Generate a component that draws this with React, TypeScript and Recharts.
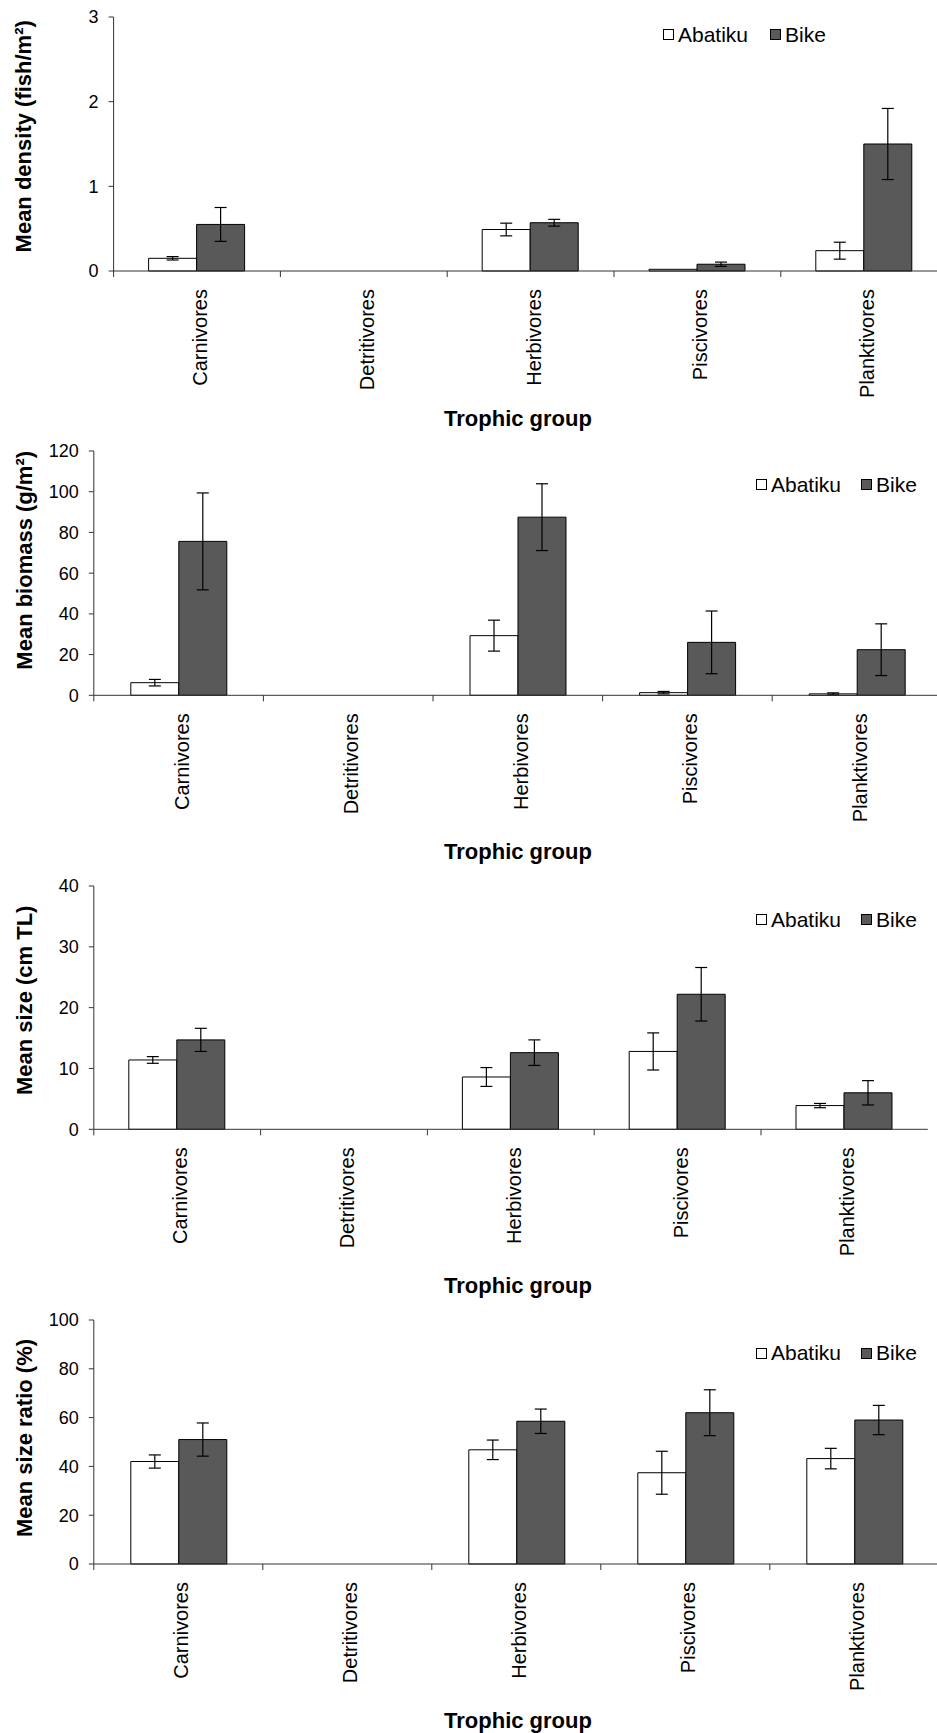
import React from "react";
import { BarChart, Bar, XAxis, YAxis, ErrorBar, Legend, Label } from "recharts";

const groups = ["Carnivores", "Detritivores", "Herbivores", "Piscivores", "Planktivores"];

const densityAbatiku = [0.15, 0, 0.49, 0.02, 0.24];
const densityAbatikuErr = [0.02, 0, 0.075, 0, 0.1];
const densityBike = [0.55, 0, 0.57, 0.08, 1.5];
const densityBikeErr = [0.2, 0, 0.04, 0.025, 0.42];

const biomassAbatiku = [6.2, 0, 29.3, 1.3, 0.7];
const biomassAbatikuErr = [1.6, 0, 7.6, 0.6, 0.5];
const biomassBike = [75.6, 0, 87.5, 26, 22.4];
const biomassBikeErr = [23.8, 0, 16.4, 15.4, 12.7];

const sizeAbatiku = [11.4, 0, 8.6, 12.8, 3.9];
const sizeAbatikuErr = [0.55, 0, 1.55, 3.05, 0.35];
const sizeBike = [14.7, 0, 12.6, 22.2, 6.0];
const sizeBikeErr = [1.9, 0, 2.1, 4.4, 2.0];

const ratioAbatiku = [42, 0, 46.8, 37.4, 43.2];
const ratioAbatikuErr = [2.7, 0, 4, 8.8, 4.2];
const ratioBike = [51, 0, 58.5, 62, 59];
const ratioBikeErr = [6.8, 0, 5, 9.4, 6];

const densityTicks = [0, 1, 2, 3];
const biomassTicks = [0, 20, 40, 60, 80, 100, 120];
const sizeTicks = [0, 10, 20, 30, 40];
const ratioTicks = [0, 20, 40, 60, 80, 100];

const FONT = '"Liberation Sans", Arial, sans-serif';
const W = 960;
const PAD = 16;
const XAXIS_H = 175;

function makeRows(a: number[], aErr: number[], b: number[], bErr: number[]) {
  return groups.map((g, i) => ({
    group: g,
    abatiku: a[i],
    abatikuErr: aErr[i],
    bike: b[i],
    bikeErr: bErr[i],
  }));
}

function LegendBox({ gap }: { gap: number }) {
  const item = (label: string, fill: string, mr: number) => (
    <div style={{ display: "flex", alignItems: "center", marginRight: mr }}>
      <div style={{ width: 9, height: 9, border: "1px solid #000", background: fill }} />
      <span style={{ fontSize: 21, marginLeft: 4, lineHeight: "22px", color: "#000" }}>{label}</span>
    </div>
  );
  return (
    <div style={{ display: "flex", fontFamily: FONT }}>
      {item("Abatiku", "#fff", gap)}
      {item("Bike", "#595959", 0)}
    </div>
  );
}

interface PanelProps {
  rows: any[];
  ticks: number[];
  title: string;
  plotTop: number;
  plotBottom: number;
  axisX: number;
  catW: number;
  titleY: number;
  legendLeft: number;
  legendY: number;
  legendGap: number;
  xTitleY: number;
}

function Panel(p: PanelProps) {
  const top = p.plotTop - PAD;
  const plotH = p.plotBottom - p.plotTop;
  const svgH = plotH + PAD + XAXIS_H;
  const right = W - (p.axisX + 5 * p.catW);
  const axisY = p.plotBottom - top;

  const renderTick = (props: any) => {
    const { x, payload } = props;
    return (
      <g>
        <line x1={x - p.catW / 2} x2={x - p.catW / 2} y1={axisY} y2={axisY + 6} stroke="#333" />
        <text
          transform={`translate(${x + 10},${axisY + 18}) rotate(-90)`}
          textAnchor="end"
          fontSize={20}
          fontFamily={FONT}
          fill="#000"
        >
          {payload.value}
        </text>
      </g>
    );
  };

  return (
    <div style={{ position: "absolute", left: 0, top }}>
      <BarChart
        width={W}
        height={svgH}
        data={p.rows}
        barGap={0}
        margin={{ top: PAD, right, left: 0, bottom: 0 }}
      >
        <XAxis
          dataKey="group"
          height={XAXIS_H}
          interval={0}
          axisLine={{ stroke: "#333" }}
          tickLine={false}
          tick={renderTick}
        >
          <Label
            content={() => (
              <text
                x={518}
                y={p.xTitleY - top}
                textAnchor="middle"
                dominantBaseline="central"
                fontSize={22}
                fontWeight="bold"
                fontFamily={FONT}
                fill="#000"
              >
                Trophic group
              </text>
            )}
          />
        </XAxis>
        <YAxis
          width={p.axisX}
          domain={[0, p.ticks[p.ticks.length - 1]]}
          ticks={p.ticks}
          interval={0}
          axisLine={{ stroke: "#333" }}
          tickLine={{ stroke: "#333" }}
          tickSize={5}
          tickMargin={10}
          tick={{ fontSize: 18, fill: "#000", fontFamily: FONT }}
        >
          <Label
            content={() => (
              <text
                x={24}
                y={p.titleY - top}
                transform={`rotate(-90, 24, ${p.titleY - top})`}
                textAnchor="middle"
                dominantBaseline="central"
                fontSize={22}
                fontWeight="bold"
                fontFamily={FONT}
                fill="#000"
              >
                {p.title}
              </text>
            )}
          />
        </YAxis>
        <Legend
          layout="horizontal"
          verticalAlign="middle"
          align="center"
          content={() => <LegendBox gap={p.legendGap} />}
          wrapperStyle={{ left: p.legendLeft, top: p.legendY - top - 11, width: "auto", bottom: "auto" }}
        />
        <Bar dataKey="abatiku" name="Abatiku" fill="#ffffff" stroke="#000" strokeWidth={1} barSize={48} isAnimationActive={false}>
          <ErrorBar dataKey="abatikuErr" width={6} stroke="#000" strokeWidth={1.2} />
        </Bar>
        <Bar dataKey="bike" name="Bike" fill="#595959" stroke="#000" strokeWidth={1} barSize={48} isAnimationActive={false}>
          <ErrorBar dataKey="bikeErr" width={6} stroke="#000" strokeWidth={1.2} />
        </Bar>
      </BarChart>
    </div>
  );
}

export default function App() {
  return (
    <div
      style={{
        position: "absolute",
        left: 0,
        top: 0,
        width: 937,
        height: 1733,
        overflow: "hidden",
        background: "#fff",
        fontFamily: FONT,
      }}
    >
      <Panel
        rows={makeRows(densityAbatiku, densityAbatikuErr, densityBike, densityBikeErr)}
        ticks={densityTicks}
        title="Mean density (fish/m²)"
        plotTop={16.7}
        plotBottom={270.7}
        axisX={113.6}
        catW={166.8}
        titleY={136}
        legendLeft={663}
        legendY={35}
        legendGap={22}
        xTitleY={418}
      />
      <Panel
        rows={makeRows(biomassAbatiku, biomassAbatikuErr, biomassBike, biomassBikeErr)}
        ticks={biomassTicks}
        title="Mean biomass  (g/m²)"
        plotTop={450.7}
        plotBottom={695}
        axisX={93.8}
        catW={169.6}
        titleY={560}
        legendLeft={756}
        legendY={485}
        legendGap={20}
        xTitleY={851}
      />
      <Panel
        rows={makeRows(sizeAbatiku, sizeAbatikuErr, sizeBike, sizeBikeErr)}
        ticks={sizeTicks}
        title="Mean size (cm TL)"
        plotTop={885.7}
        plotBottom={1129}
        axisX={93.8}
        catW={166.8}
        titleY={1000}
        legendLeft={756}
        legendY={920}
        legendGap={20}
        xTitleY={1285}
      />
      <Panel
        rows={makeRows(ratioAbatiku, ratioAbatikuErr, ratioBike, ratioBikeErr)}
        ticks={ratioTicks}
        title="Mean size ratio (%)"
        plotTop={1320}
        plotBottom={1564}
        axisX={93.8}
        catW={169}
        titleY={1438}
        legendLeft={756}
        legendY={1353}
        legendGap={20}
        xTitleY={1720}
      />
    </div>
  );
}
